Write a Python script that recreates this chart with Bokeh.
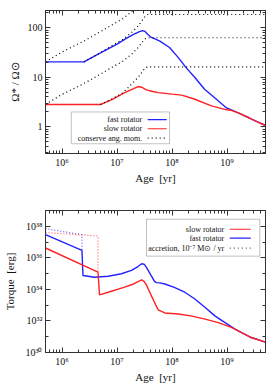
from bokeh.plotting import figure
from bokeh.layouts import column
from bokeh.models import FixedTicker, CustomJSTickFormatter, LogAxis, BoxAnnotation, Range1d
from bokeh.core.properties import value
from bokeh.embed import file_html
from bokeh.resources import INLINE

# ---------------- top panel: spin rate ----------------
fast_age = [5e5, 2.5e6, 5e6, 1e7, 1.5e7, 2e7, 2.5e7, 2.9e7, 3.2e7, 3.6e7, 4.2e7, 5e7, 6e7,
            9e7, 1.3e8, 1.8e8, 2.6e8, 3.9e8, 6.4e8, 9.8e8, 1.2e9, 1.6e9, 2.5e9, 3.5e9, 5e9]
fast_omega = [20.5, 20.5, 31, 47, 62, 74, 83, 88, 85, 74, 64, 59, 54,
              40, 25, 15.7, 9.9, 5.75, 3.6, 2.4, 2.2, 1.9, 1.52, 1.27, 1.06]

slow_age = [5e5, 5e6, 7.9e6, 1.38e7, 2e7, 2.4e7, 2.8e7, 3.4e7, 4.5e7, 5.6e7, 1e8, 1.5e8,
            2.6e8, 5.2e8, 9.8e8, 1.2e9, 1.6e9, 2.5e9, 3.5e9, 5e9]
slow_omega = [2.82, 2.82, 3.5, 4.9, 5.9, 6.5, 6.3, 5.57, 5.15, 4.9, 4.56, 4.36,
              3.6, 2.65, 2.2, 2.15, 1.9, 1.52, 1.27, 1.06]

# conserved angular momentum tracks
consA_age = [5e5, 1e6, 2.5e6, 5e6, 7.9e6, 1.26e7, 1.82e7, 2.42e7]
consA_omega = [20.5, 32.5, 54, 84, 113, 152, 210, 287]
consB_age = [5e5, 1e6, 2.5e6, 5e6, 7.9e6, 1.26e7, 1.82e7, 2.42e7, 3.16e7, 3.55e7, 5e9]
consB_omega = [2.85, 4.5, 7.5, 11.6, 15.7, 21, 29, 40, 59, 63, 63]
consC_age = [2.5e6, 5e6, 7.9e6, 1.26e7, 1.82e7, 2.42e7, 3.16e7, 3.55e7, 5e9]
consC_omega = [20.5, 31.8, 42.9, 57.8, 79.8, 109, 165, 186, 186]
consD_age = [5e6, 7.9e6, 1.26e7, 1.82e7, 2.42e7, 3.16e7, 3.55e7, 5e9]
consD_omega = [2.82, 3.6, 4.8, 7.2, 10, 15, 16.3, 16.3]

# ---------------- bottom panel: torque ----------------
fast_t_age = [5e5, 2.3e6, 2.4e6, 3.9e6, 6.9e6, 1.2e7, 1.83e7, 2.4e7, 2.8e7, 3.1e7, 3.4e7,
              4.2e7, 4.8e7, 5.2e7, 6e7, 7.4e7, 1.1e8, 1.7e8, 2.6e8, 4e8, 6e8, 9.2e8,
              1.4e9, 1.8e9, 2.75e9, 5e9]
fast_torque = [2.95e37, 2.95e36, 7.6e34, 5.9e34, 6.8e34, 9.8e34, 1.6e35, 2.8e35, 4.2e35,
               4.0e35, 2.6e35, 7.1e34, 3.2e34, 2.7e34, 2.6e34, 2.2e34, 1.35e34, 6.6e33,
               2.45e33, 7.2e32, 2.1e32, 7.9e31, 3.0e31, 1.86e31, 8.9e30, 4.5e30]
slow_t_age = [5e5, 4.5e6, 4.8e6, 6.9e6, 1.33e7, 2e7, 2.8e7, 3.1e7, 3.4e7, 4.2e7, 5e7, 5.6e7,
              7.4e7, 1.3e8, 2.2e8, 4e8, 6.9e8, 1.2e9, 1.8e9, 2.75e9, 5e9]
slow_torque = [4.2e36, 1.23e35, 4.5e33, 6.6e33, 1.35e34, 2.2e34, 4.0e34, 3.2e34, 2.0e34,
               4.0e33, 1.1e33, 5.0e32, 3.2e32, 2.75e32, 2.1e32, 1.3e32, 7.9e31, 3.9e31,
               1.86e31, 8.9e30, 4.5e30]
acc_fast_age = [5e5, 2.3e6, 2.3e6]
acc_fast_torque = [7.1e37, 2.95e37, 2.95e36]
acc_slow_age = [5e5, 4.5e6, 4.5e6]
acc_slow_torque = [4.0e37, 2.4e37, 1.23e35]

x_major = [1e6, 1e7, 1e8, 1e9]
top_y_major = [1, 10, 100]
bot_y_major = [1e30, 1e32, 1e34, 1e36, 1e38]

FONT = "Liberation Serif"
BLUE = "#2222ff"
RED = "#ff2222"
FRAME = "#333333"

x_minor = [k * 10.0 ** e for e in range(5, 10) for k in range(2, 10) if 5e5 <= k * 10.0 ** e <= 5e9]
top_y_minor = [k * 10.0 ** e for e in range(-1, 3) for k in range(2, 10) if 0.28 <= k * 10.0 ** e <= 225]
bot_y_minor = [1e31, 1e33, 1e35, 1e37, 1e39]

SUP_CODE = """
const s = {'-':'\u207b','0':'\u2070','1':'\u00b9','2':'\u00b2','3':'\u00b3','4':'\u2074',
           '5':'\u2075','6':'\u2076','7':'\u2077','8':'\u2078','9':'\u2079'};
const e = Math.round(Math.log10(tick));
return '10' + String(e).split('').map(c => s[c]).join('');
"""
PLAIN_CODE = "return String(Math.round(tick));"


def style_axis(ax, ticks, minor, fmt_code=None, show_labels=True, label_standoff=3):
    ax.ticker = FixedTicker(ticks=ticks, minor_ticks=minor)
    ax.major_tick_in = 5
    ax.major_tick_out = 0
    ax.minor_tick_in = 3
    ax.minor_tick_out = 0
    ax.major_tick_line_color = FRAME
    ax.minor_tick_line_color = FRAME
    ax.axis_line_color = FRAME
    if show_labels:
        ax.formatter = CustomJSTickFormatter(code=fmt_code)
        ax.major_label_text_font = FONT
        ax.major_label_text_font_size = "10px"
        ax.major_label_text_color = "#111111"
        ax.major_label_standoff = 3
        ax.axis_label_text_font = FONT
        ax.axis_label_text_font_size = "11px"
        ax.axis_label_text_font_style = "normal"
        ax.axis_label_text_color = "#111111"
        ax.axis_label_standoff = label_standoff
    else:
        ax.major_label_text_font_size = "1px"
        ax.major_label_text_alpha = 0
        ax.major_label_standoff = 0


def make_fig(yr, fh, top_border, bottom_border, y_ticks, y_minor, y_fmt, ylabel, ylab_standoff):
    p = figure(x_axis_type="log", y_axis_type="log",
               x_range=Range1d(5e5, 5e9), y_range=Range1d(*yr),
               frame_width=220, frame_height=fh,
               min_border_left=44, min_border_right=10,
               min_border_top=top_border, min_border_bottom=bottom_border,
               output_backend="svg", toolbar_location=None)
    p.grid.visible = False
    p.outline_line_color = FRAME
    p.background_fill_color = "white"
    p.border_fill_color = "white"
    style_axis(p.xaxis[0], x_major, x_minor, SUP_CODE, label_standoff=1)
    p.xaxis[0].axis_label = "Age\u00a0 [yr]"
    style_axis(p.yaxis[0], y_ticks, y_minor, y_fmt, label_standoff=ylab_standoff)
    p.yaxis[0].axis_label = ylabel
    top_ax = LogAxis()
    style_axis(top_ax, x_major, x_minor, show_labels=False)
    p.add_layout(top_ax, "above")
    right_ax = LogAxis()
    style_axis(right_ax, y_ticks, y_minor, show_labels=False)
    p.add_layout(right_ax, "right")
    return p


def legend(p, box, text_x, rows, line_x):
    p.add_layout(BoxAnnotation(left=box[0], right=box[1], bottom=box[2], top=box[3],
                               fill_color="white", fill_alpha=1.0,
                               line_color=FRAME, line_width=1, level="underlay"))
    for label, y, color, dash in rows:
        p.text(x=[text_x], y=[y], text=[label], text_align="right", text_baseline="middle",
               text_font=value(FONT), text_font_size="8px", text_color="#111111")
        p.line(line_x, [y, y], line_color=color, line_width=1.2, line_dash=dash)


# ---- top figure ----
p1 = make_fig((0.288, 224), 143, 10, 47, top_y_major, top_y_minor, PLAIN_CODE,
              "\u03a9* / \u03a9\u2299", 4)
p1.line(fast_age, fast_omega, line_color=BLUE, line_width=1.4)
p1.line(slow_age, slow_omega, line_color=RED, line_width=1.4)
for xa, ya in [(consA_age, consA_omega), (consB_age, consB_omega),
               (consC_age, consC_omega), (consD_age, consD_omega)]:
    p1.line(xa, ya, line_color="black", line_width=1.2, line_dash="1 3")
legend(p1, (1.47e6, 9.0e7, 0.453, 1.99), 2.86e7,
       [("fast rotator", 1.39, BLUE, "solid"),
        ("slow rotator", 0.911, RED, "solid"),
        ("conserve ang. mom.", 0.59, "black", "1 3")],
       [3.6e7, 8.0e7])

# ---- bottom figure ----
p2 = make_fig((1e30, 1e39), 142, 10, 37, bot_y_major, bot_y_minor, SUP_CODE,
              "Torque\u00a0 [erg]", 7)
p2.line(acc_fast_age, acc_fast_torque, line_color=BLUE, line_width=1.2, line_dash="1 2", line_alpha=0.75)
p2.line(acc_slow_age, acc_slow_torque, line_color=RED, line_width=1.2, line_dash="1 2", line_alpha=0.75)
p2.line(fast_t_age, fast_torque, line_color=BLUE, line_width=1.4)
p2.line(slow_t_age, slow_torque, line_color=RED, line_width=1.4)
legend(p2, (3.43e7, 3.94e9, 1.28e36, 2.8e38), 8.9e8,
       [("slow rotator", 6.5e37, RED, "solid"),
        ("fast rotator", 1.8e37, BLUE, "solid"),
        ("accretion, 10\u207b\u2077 M\u2299 / yr", 4.15e36, "#555555", "1 3")],
       [1.12e9, 2.7e9])

layout = column(p1, p2, spacing=0)
open("out.html", "w").write(file_html(layout, INLINE))
